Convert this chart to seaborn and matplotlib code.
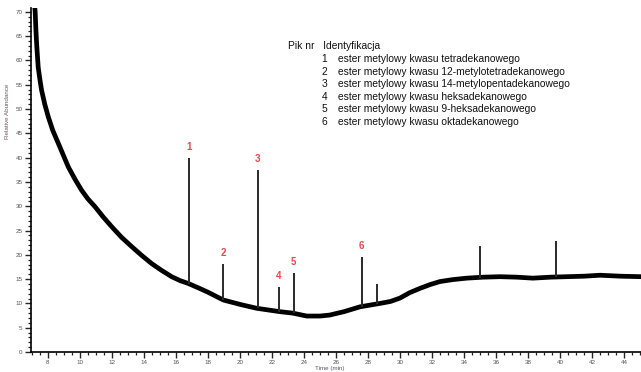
import matplotlib
matplotlib.use("Agg")
import matplotlib.pyplot as plt
from matplotlib.ticker import MultipleLocator
import seaborn as sns
import pandas as pd

# baseline
base_t = [7.12, 7.2, 7.25, 7.3, 7.39, 7.5, 7.6, 7.8, 8.02, 8.3, 8.64, 9.0, 9.27, 9.7,
          10.1, 10.5, 10.94, 11.45, 11.98, 12.6, 13.23, 13.85, 14.48, 15.1, 15.73,
          16.25, 16.77, 17.4, 18.0, 18.96, 20.0, 21.04, 22.5, 23.3, 24.17, 25.0, 25.6,
          26.5, 27.5, 28.75, 29.4, 30.0, 30.6, 31.25, 31.9, 32.5, 33.3, 34.17, 35.2,
          36.25, 37.3, 38.3, 39.4, 40.4, 41.5, 42.5, 43.8, 45.1]
base_y = [73, 70, 66, 63, 58.6, 56.0, 53.9, 51.0, 48.4, 45.6, 43.0, 40.2, 38.1, 35.5,
          33.3, 31.5, 29.9, 27.8, 25.8, 23.6, 21.7, 19.9, 18.2, 16.8, 15.5,
          14.7, 14.1, 13.2, 12.3, 10.7, 9.8, 9.0, 8.3, 8.0, 7.4, 7.4, 7.6,
          8.3, 9.3, 10.0, 10.4, 11.1, 12.2, 13.1, 13.9, 14.5, 14.9, 15.2, 15.4,
          15.5, 15.4, 15.2, 15.4, 15.5, 15.6, 15.8, 15.6, 15.5]

# peaks
peak_t = [16.83, 18.96, 21.10, 22.44, 23.35, 27.60, 28.54, 35.0, 39.73]
peak_base = [14.0, 10.7, 9.0, 8.3, 8.0, 9.3, 9.9, 15.3, 15.4]
peak_top = [39.9, 18.2, 37.4, 13.4, 16.2, 19.5, 13.9, 21.8, 22.8]
peak_label = ["1", "2", "3", "4", "5", "6", "", "", ""]

legend_nr = ["1", "2", "3", "4", "5", "6"]
legend_names = [
    "ester metylowy kwasu tetradekanowego",
    "ester metylowy kwasu 12-metylotetradekanowego",
    "ester metylowy kwasu 14-metylopentadekanowego",
    "ester metylowy kwasu heksadekanowego",
    "ester metylowy kwasu 9-heksadekanowego",
    "ester metylowy kwasu oktadekanowego",
]

sns.set_style("ticks")
plt.rcParams['font.family'] = ['Liberation Sans', 'DejaVu Sans']

fig = plt.figure(figsize=(6.41, 3.72), dpi=100)
ax = fig.add_axes([31/641, 20/372, 1 - 31/641, (352-8)/372])

df = pd.DataFrame({"t": base_t, "y": base_y})
sns.lineplot(data=df, x="t", y="y", ax=ax, color="black", lw=3.4, sort=True)
ax.vlines(peak_t, peak_base, peak_top, color="#2a2a2a", lw=1.4)
for t, top, lab in zip(peak_t, peak_top, peak_label):
    if lab:
        ax.text(t, top + 1.2, lab, color="#e8474b", fontsize=7, fontweight="bold",
                ha="center", va="bottom")

ax.set_xlim(6.94, 45.06)
ax.set_ylim(0, 70.8)
ax.xaxis.set_minor_locator(MultipleLocator(0.5))
ax.yaxis.set_major_locator(MultipleLocator(5))
ax.yaxis.set_minor_locator(MultipleLocator(1))
ax.set_xticks(list(range(8, 46, 2)))
ax.tick_params(which="major", length=4, width=1.0, labelsize=4.5, labelcolor="#555555", pad=2)
ax.tick_params(which="minor", length=2.5, width=0.9)
sns.despine(ax=ax)
for s in ["left", "bottom"]:
    ax.spines[s].set_linewidth(1.2)
    ax.spines[s].set_color("black")

ax.set_xlabel("Time (min)", fontsize=4.5, color="#555577", labelpad=1)
ax.set_ylabel("Relative Abundance", fontsize=4.5, color="#775566", labelpad=2)
ax.yaxis.set_label_coords(-0.035, 0.70)
ax.xaxis.set_label_coords((330-31)/610, -0.04)

# legend block
fig.text(288/641, 1 - 46/372, "Pik nr   Identyfikacja", fontsize=7.4, ha="left", va="center", color="#111111")
for i, (n, name) in enumerate(zip(legend_nr, legend_names)):
    yy = 1 - (59 + i * 12.6) / 372
    fig.text(327/641, yy, n, fontsize=7.4, ha="right", va="center", color="#111111")
    fig.text(338/641, yy, name, fontsize=7.4, ha="left", va="center", color="#111111")

fig.savefig("out.png", dpi=100)
